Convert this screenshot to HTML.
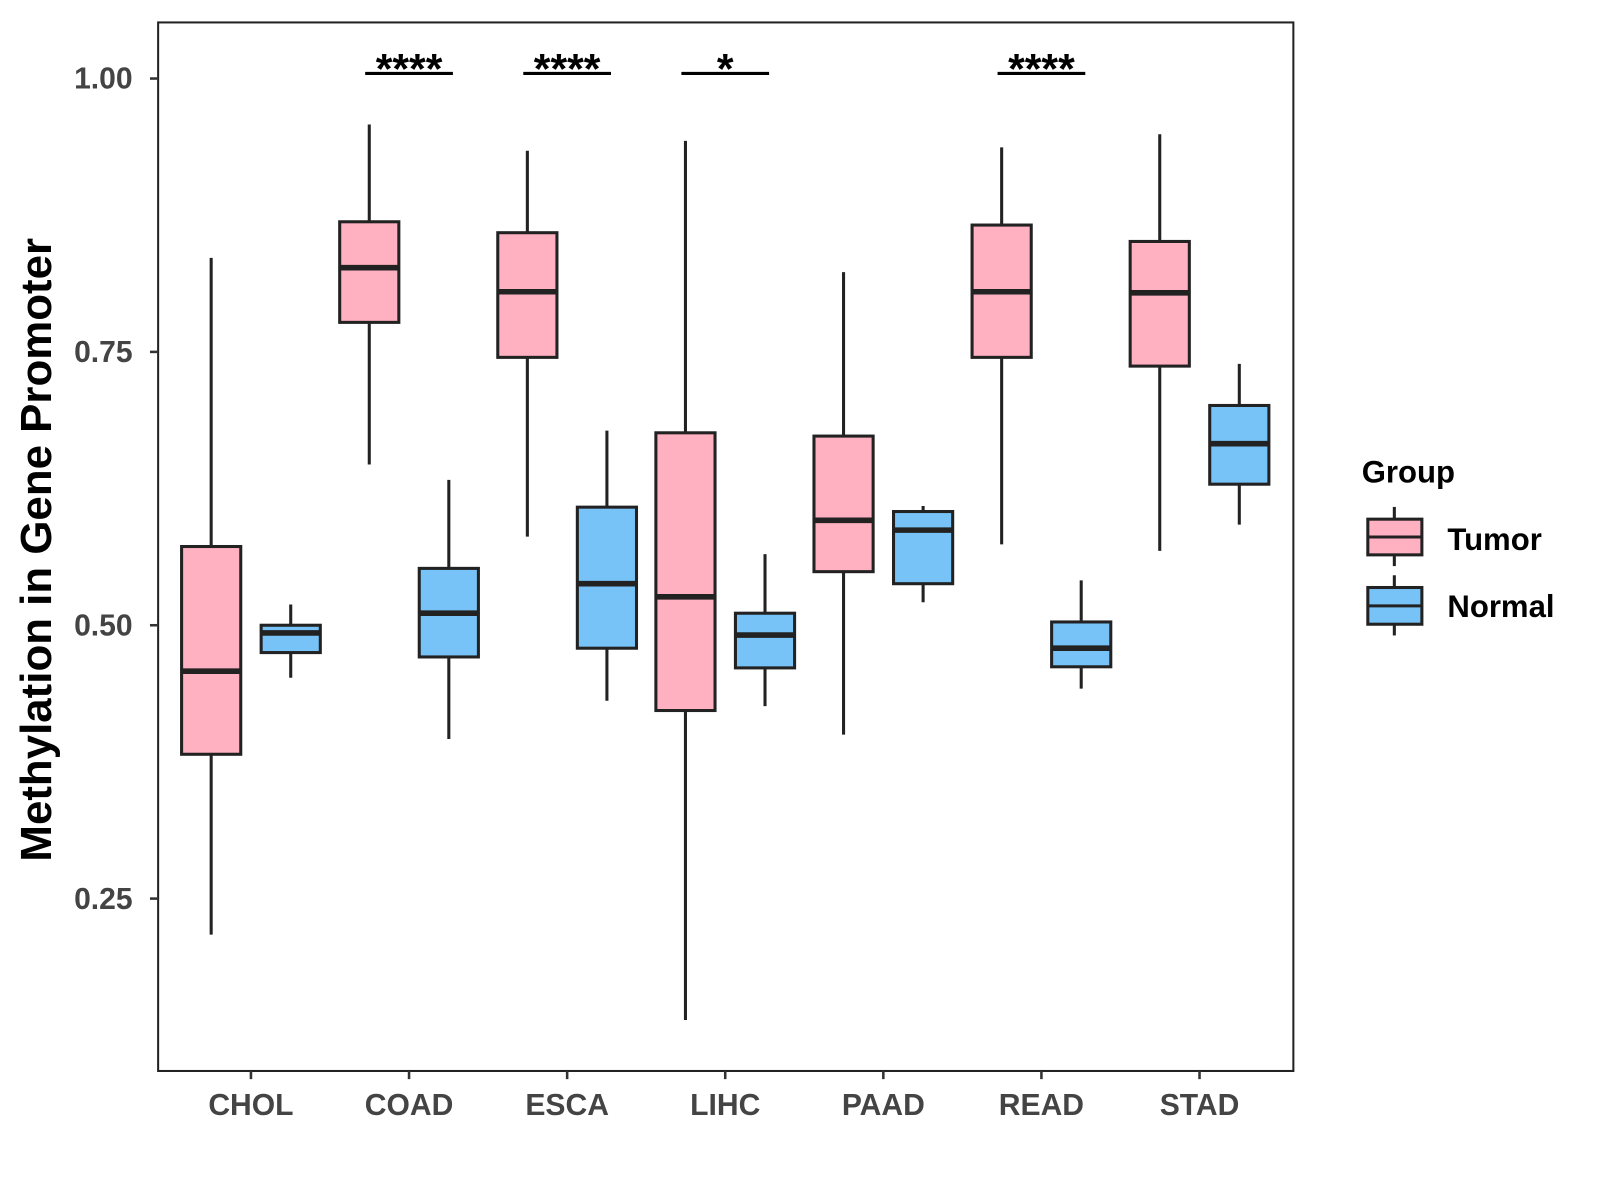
<!DOCTYPE html>
<html><head><meta charset="utf-8"><style>
html,body{margin:0;padding:0;background:#fff}
svg{display:block;font-family:"Liberation Sans",Arial,sans-serif}
</style></head><body>
<svg id="chart" width="1600" height="1200" viewBox="0 0 1568.6 1176.5" xmlns="http://www.w3.org/2000/svg">
<rect x="0" y="0" width="1568.6" height="1176.5" fill="#fff"/>
<g id="marks"></g>
<rect x="155" y="22" width="1113" height="1028" fill="none" stroke="#222" stroke-width="2"/>
<g id="axes"></g>
<text transform="translate(50,539) rotate(-90)" text-anchor="middle" font-size="43" font-weight="bold" fill="#000">Methylation in Gene Promoter</text>
<g>
<text x="1335" y="473" font-size="30.5" font-weight="bold" fill="#000">Group</text>
<g>
<line x1="1367" y1="497" x2="1367" y2="555" stroke="#222" stroke-width="3"/>
<rect x="1341" y="509" width="53" height="35" fill="#FFB0C1" stroke="#222" stroke-width="3"/>
<line x1="1341" y1="526.5" x2="1394" y2="526.5" stroke="#222" stroke-width="3"/>
<text x="1419" y="539" font-size="30.5" font-weight="bold" fill="#000">Tumor</text>
</g>
<g>
<line x1="1367" y1="564" x2="1367" y2="623" stroke="#222" stroke-width="3"/>
<rect x="1341" y="576" width="53" height="36" fill="#77C3F8" stroke="#222" stroke-width="3"/>
<line x1="1341" y1="594" x2="1394" y2="594" stroke="#222" stroke-width="3"/>
<text x="1419" y="605" font-size="30.5" font-weight="bold" fill="#000">Normal</text>
</g>
</g>
</svg>
<script>
const categories = ["CHOL","COAD","ESCA","LIHC","PAAD","READ","STAD"];
// [low, q1, median, q3, high]
const tumorStats = [
 [0.217,0.382,0.458,0.572,0.836],
 [0.647,0.777,0.827,0.869,0.958],
 [0.581,0.745,0.805,0.859,0.934],
 [0.139,0.422,0.526,0.676,0.943],
 [0.400,0.549,0.596,0.673,0.823],
 [0.574,0.745,0.805,0.866,0.937],
 [0.568,0.737,0.804,0.851,0.949]
];
const normalStats = [
 [0.452,0.475,0.493,0.500,0.519],
 [0.396,0.471,0.511,0.552,0.633],
 [0.431,0.479,0.538,0.608,0.678],
 [0.426,0.461,0.491,0.511,0.565],
 [0.521,0.538,0.587,0.604,0.609],
 [0.442,0.462,0.479,0.503,0.541],
 [0.592,0.629,0.666,0.701,0.739]
];
const significance = ["","****","****","*","","****",""];
const yTicks = [0.25,0.50,0.75,1.00];
const yTickLabels = ["0.25","0.50","0.75","1.00"];

const NS="http://www.w3.org/2000/svg";
function y(v){return 613-(v-0.5)*1072;}
function x(i){return 246+i*155;}
function mk(tag,attrs,parent){const e=document.createElementNS(NS,tag);for(const k in attrs)e.setAttribute(k,attrs[k]);parent.appendChild(e);return e;}
const marks=document.getElementById('marks');
const axes=document.getElementById('axes');
function box(cx,s,fill,name){
  const g=mk('g',{},marks);
  
  
  mk('line',{x1:cx,x2:cx,y1:y(s[0]),y2:y(s[4]),stroke:'#222','stroke-width':3},g);
  mk('rect',{x:cx-29,y:y(s[3]),width:58,height:y(s[1])-y(s[3]),fill:fill,stroke:'#222','stroke-width':3},g);
  mk('line',{x1:cx-29,x2:cx+29,y1:y(s[2]),y2:y(s[2]),stroke:'#222','stroke-width':5.5},g);
}
categories.forEach((c,i)=>{
  box(x(i)-39,tumorStats[i],'#FFB0C1','box-tumor-'+c.toLowerCase());
  box(x(i)+39,normalStats[i],'#77C3F8','box-normal-'+c.toLowerCase());
  if(significance[i]){
    const g=mk('g',{},marks);
    
    
    mk('line',{x1:x(i)-43,x2:x(i)+43,y1:72,y2:72,stroke:'#000','stroke-width':3},g);
    const t=mk('text',{x:x(i),y:82,'text-anchor':'middle','font-size':42,'font-weight':'bold',fill:'#000'},g);
    t.textContent=significance[i];
  }
  mk('line',{x1:x(i),x2:x(i),y1:1050,y2:1058,stroke:'#333','stroke-width':2.5},axes);
  const t=mk('text',{x:x(i),y:1093,'text-anchor':'middle','font-size':29.5,'font-weight':'bold',fill:'#444'},axes);
  
  
  t.textContent=c;
});
yTicks.forEach((v,i)=>{
  mk('line',{x1:147,x2:155,y1:y(v),y2:y(v),stroke:'#333','stroke-width':2.5},axes);
  const t=mk('text',{x:130,y:y(v)+10,'text-anchor':'end','font-size':29.5,'font-weight':'bold',fill:'#444'},axes);
  
  
  t.textContent=yTickLabels[i];
});
</script>
</body></html>
